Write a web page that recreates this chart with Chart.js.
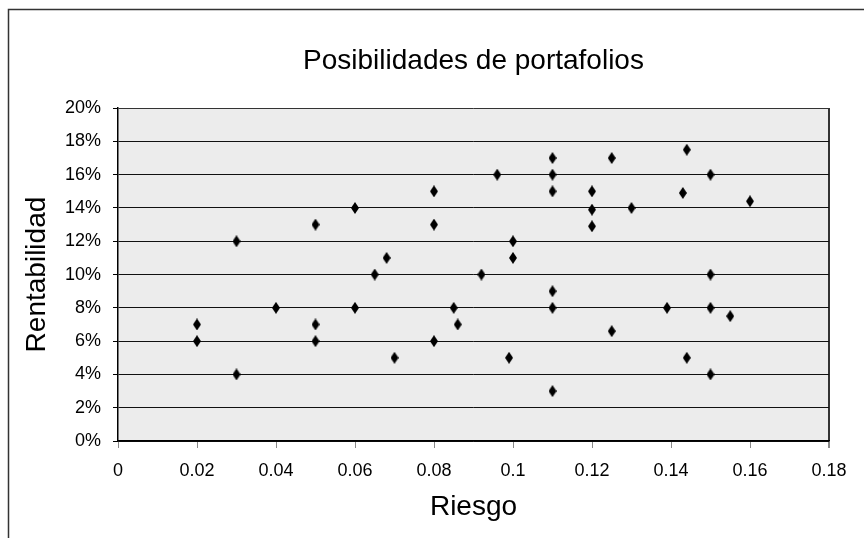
<!DOCTYPE html>
<html>
<head>
<meta charset="utf-8">
<script src="https://cdn.jsdelivr.net/npm/chart.js@4/dist/chart.umd.min.js"></script>
<style>
html,body{margin:0;padding:0;background:#fff;overflow:hidden;}
canvas{display:block;}
</style>
</head>
<body>
<canvas id="c" width="864" height="538"></canvas>
<script>
const chartTitle = 'Posibilidades de portafolios';
const xTitle = 'Riesgo';
const yTitle = 'Rentabilidad';

const riesgo = [0.02,0.02,0.03,0.03,0.04,0.05,0.05,0.05,0.06,0.06,0.065,0.068,0.07,0.08,0.08,0.08,0.085,0.086,0.096,0.11,0.125,0.144,0.11,0.15,0.11,0.12,0.143,0.16,0.12,0.13,0.12,0.1,0.1,0.092,0.15,0.11,0.11,0.139,0.15,0.155,0.125,0.099,0.144,0.15,0.11];
const rentabilidad = [7,6,12,4,8,13,7,6,14,8,10,11,5,15,13,6,8,7,16,17,17,17.5,16,16,15,15,14.9,14.4,13.9,14,12.9,12,11,10,10,9,8,8,8,7.5,6.6,5,5,4,3];

const xTickLabels = ['0','0.02','0.04','0.06','0.08','0.1','0.12','0.14','0.16','0.18'];
const yTickLabels = ['0%','2%','4%','6%','8%','10%','12%','14%','16%','18%','20%'];

const points = riesgo.map((x, i) => ({x: x, y: rentabilidad[i]}));

// tall diamond marker
const marker = document.createElement('canvas');
marker.width = 8; marker.height = 12;
(function(){
  const m = marker.getContext('2d');
  m.fillStyle = '#000';
  m.beginPath();
  m.moveTo(4, 0);
  m.lineTo(8, 6);
  m.lineTo(4, 12);
  m.lineTo(0, 6);
  m.closePath();
  m.fill();
})();

const bgPlugin = {
  id: 'bg',
  beforeDraw(chart) {
    const ctx = chart.ctx, a = chart.chartArea;
    ctx.save();
    ctx.fillStyle = '#ffffff';
    ctx.fillRect(0, 0, chart.width, chart.height);
    ctx.strokeStyle = '#333333';
    ctx.lineWidth = 1.5;
    ctx.strokeRect(8.5, 9.5, 1000, 1000);
    ctx.fillStyle = '#ececec';
    ctx.fillRect(a.left, a.top, a.right - a.left, a.bottom - a.top);
    ctx.restore();
  }
};

const FONT = "'Liberation Sans', Arial, sans-serif";

new Chart(document.getElementById('c'), {
  type: 'scatter',
  data: {
    datasets: [{
      data: points,
      pointStyle: marker,
      pointRadius: 6,
      pointHoverRadius: 6,
      backgroundColor: '#000',
      borderColor: '#000'
    }]
  },
  plugins: [bgPlugin],
  options: {
    responsive: false,
    animation: false,
    devicePixelRatio: 1,
    layout: { padding: { left: 0, right: 35, top: 0, bottom: 0 } },
    plugins: {
      legend: { display: false },
      tooltip: { enabled: false },
      title: {
        display: true,
        text: chartTitle,
        fullSize: false,
        color: '#000',
        font: { family: FONT, size: 28, weight: 'normal' },
        padding: { top: 44, bottom: 30.5 }
      }
    },
    scales: {
      x: {
        type: 'linear',
        min: 0, max: 0.18,
        afterFit(scale) { scale.height = 97; },
        ticks: {
          stepSize: 0.02,
          color: '#000',
          padding: 12,
          maxRotation: 0,
          font: { family: FONT, size: 18 },
          callback: (v, i) => xTickLabels[i]
        },
        grid: {
          drawOnChartArea: true,
          color: (ctx) => (ctx.index === xTickLabels.length - 1 ? '#333333' : 'rgba(0,0,0,0)'),
          lineWidth: (ctx) => (ctx.index === xTickLabels.length - 1 ? 2 : 1),
          tickColor: '#888888',
          tickLength: 7
        },
        border: { display: true, color: '#000', width: 1.5 },
        title: {
          display: true,
          text: xTitle,
          color: '#000',
          font: { family: FONT, size: 28 },
          padding: { top: 0, bottom: 14 }
        }
      },
      y: {
        type: 'linear',
        min: 0, max: 20,
        afterFit(scale) { scale.width = 118; },
        ticks: {
          stepSize: 2,
          color: '#000',
          padding: 12,
          font: { family: FONT, size: 18 },
          callback: (v, i) => yTickLabels[i]
        },
        grid: {
          color: (ctx) => (ctx.index === yTickLabels.length - 1 ? '#333333' : '#111111'),
          lineWidth: 1,
          tickColor: '#000',
          tickLength: 5
        },
        border: { display: true, color: '#000', width: 1.5 },
        title: {
          display: true,
          text: yTitle,
          color: '#000',
          font: { family: FONT, size: 28 },
          padding: { top: 20, bottom: 0 }
        }
      }
    }
  }
});
</script>
</body>
</html>
